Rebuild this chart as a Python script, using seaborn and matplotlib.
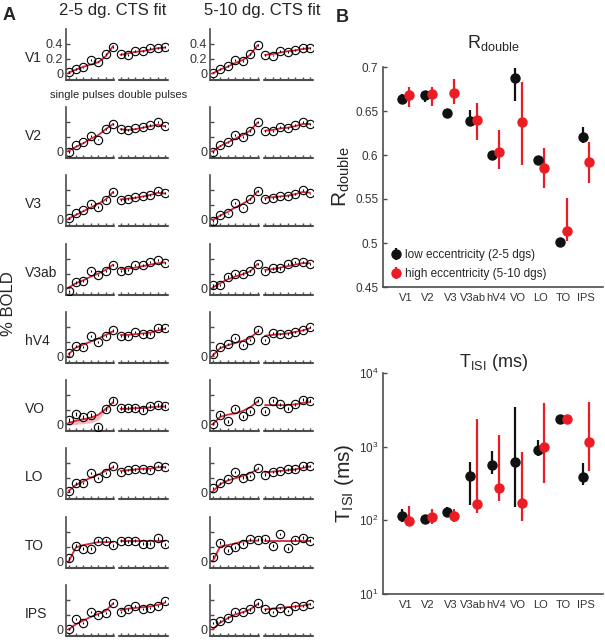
import numpy as np
import seaborn as sns
import matplotlib.pyplot as plt
from matplotlib.ticker import NullLocator

sns.set_style('ticks')
plt.rcParams['font.family'] = ['Liberation Sans', 'DejaVu Sans']
plt.rcParams['mathtext.fontset'] = 'custom'
plt.rcParams['mathtext.rm'] = 'Liberation Sans'
plt.rcParams['mathtext.it'] = 'Liberation Sans:italic'

rois = ['V1', 'V2', 'V3', 'V3ab', 'hV4', 'VO', 'LO', 'TO', 'IPS']

# panel A: % BOLD for 7 single pulses then 7 double pulses
bold_low = {
    'V1':   [0.02, 0.06, 0.08, 0.18, 0.16, 0.26, 0.36, 0.26, 0.25, 0.30, 0.30, 0.34, 0.34, 0.36],
    'V2':   [-0.01, 0.08, 0.12, 0.21, 0.16, 0.30, 0.37, 0.30, 0.29, 0.31, 0.33, 0.36, 0.40, 0.34],
    'V3':   [0.02, 0.08, 0.12, 0.21, 0.17, 0.26, 0.37, 0.26, 0.28, 0.30, 0.31, 0.33, 0.38, 0.36],
    'V3ab': [-0.04, 0.08, 0.10, 0.23, 0.18, 0.24, 0.32, 0.24, 0.25, 0.32, 0.32, 0.36, 0.38, 0.34],
    'hV4':  [0.04, 0.14, 0.13, 0.27, 0.19, 0.27, 0.35, 0.27, 0.27, 0.33, 0.30, 0.30, 0.38, 0.38],
    'VO':   [0.06, 0.14, 0.10, 0.13, -0.04, 0.21, 0.32, 0.22, 0.22, 0.22, 0.20, 0.25, 0.26, 0.25],
    'LO':   [0.02, 0.12, 0.13, 0.26, 0.19, 0.26, 0.35, 0.27, 0.30, 0.31, 0.32, 0.30, 0.36, 0.34],
    'TO':   [0.04, 0.21, 0.17, 0.17, 0.28, 0.28, 0.22, 0.28, 0.27, 0.28, 0.24, 0.24, 0.31, 0.23],
    'IPS':  [0.01, 0.14, 0.09, 0.23, 0.19, 0.22, 0.36, 0.23, 0.27, 0.32, 0.28, 0.29, 0.32, 0.38],
}
fit_low = {
    'V1':   [0.01, 0.05, 0.09, 0.12, 0.15, 0.23, 0.37, 0.25, 0.27, 0.29, 0.30, 0.32, 0.34, 0.35],
    'V2':   [0.01, 0.06, 0.11, 0.17, 0.22, 0.30, 0.37, 0.30, 0.29, 0.30, 0.32, 0.34, 0.36, 0.34],
    'V3':   [0.01, 0.06, 0.11, 0.16, 0.21, 0.27, 0.37, 0.27, 0.28, 0.29, 0.31, 0.33, 0.36, 0.35],
    'V3ab': [0.01, 0.07, 0.11, 0.16, 0.20, 0.25, 0.32, 0.26, 0.27, 0.28, 0.30, 0.32, 0.34, 0.35],
    'hV4':  [0.03, 0.12, 0.16, 0.20, 0.24, 0.29, 0.34, 0.29, 0.29, 0.30, 0.31, 0.32, 0.35, 0.37],
    'VO':   [0.02, 0.05, 0.07, 0.09, 0.13, 0.21, 0.30, 0.21, 0.21, 0.22, 0.22, 0.23, 0.24, 0.24],
    'LO':   [0.02, 0.10, 0.15, 0.20, 0.24, 0.29, 0.34, 0.29, 0.30, 0.31, 0.32, 0.32, 0.34, 0.34],
    'TO':   [0.00, 0.19, 0.22, 0.24, 0.26, 0.26, 0.26, 0.27, 0.27, 0.27, 0.27, 0.27, 0.27, 0.27],
    'IPS':  [0.00, 0.07, 0.12, 0.17, 0.21, 0.25, 0.35, 0.26, 0.28, 0.29, 0.30, 0.31, 0.33, 0.36],
}
bold_high = {
    'V1':   [0.01, 0.06, 0.10, 0.18, 0.17, 0.26, 0.38, 0.25, 0.24, 0.30, 0.29, 0.32, 0.34, 0.34],
    'V2':   [-0.01, 0.08, 0.12, 0.22, 0.19, 0.28, 0.40, 0.28, 0.28, 0.33, 0.32, 0.36, 0.40, 0.37],
    'V3':   [-0.02, 0.06, 0.08, 0.22, 0.16, 0.28, 0.38, 0.28, 0.29, 0.31, 0.32, 0.34, 0.40, 0.35],
    'V3ab': [0.04, 0.05, 0.16, 0.19, 0.20, 0.24, 0.33, 0.24, 0.27, 0.27, 0.33, 0.36, 0.36, 0.33],
    'hV4':  [0.03, 0.13, 0.17, 0.25, 0.15, 0.22, 0.35, 0.22, 0.32, 0.30, 0.30, 0.33, 0.36, 0.40],
    'VO':   [0.01, 0.13, 0.04, 0.21, 0.11, 0.18, 0.32, 0.18, 0.32, 0.27, 0.22, 0.27, 0.33, 0.32],
    'LO':   [0.06, 0.12, 0.18, 0.28, 0.20, 0.22, 0.33, 0.24, 0.28, 0.29, 0.31, 0.31, 0.36, 0.36],
    'TO':   [0.06, 0.25, 0.15, 0.19, 0.24, 0.30, 0.29, 0.30, 0.21, 0.37, 0.18, 0.29, 0.32, 0.28],
    'IPS':  [0.09, 0.11, 0.16, 0.24, 0.24, 0.27, 0.35, 0.27, 0.24, 0.29, 0.25, 0.31, 0.32, 0.34],
}
fit_high = {
    'V1':   [0.00, 0.05, 0.09, 0.14, 0.18, 0.25, 0.38, 0.25, 0.26, 0.28, 0.30, 0.31, 0.33, 0.34],
    'V2':   [0.00, 0.07, 0.12, 0.17, 0.22, 0.28, 0.39, 0.28, 0.29, 0.31, 0.32, 0.34, 0.37, 0.37],
    'V3':   [-0.01, 0.05, 0.10, 0.16, 0.21, 0.27, 0.38, 0.29, 0.30, 0.31, 0.32, 0.34, 0.37, 0.36],
    'V3ab': [0.01, 0.07, 0.12, 0.16, 0.19, 0.23, 0.33, 0.25, 0.26, 0.28, 0.30, 0.32, 0.34, 0.34],
    'hV4':  [0.01, 0.11, 0.15, 0.18, 0.21, 0.25, 0.33, 0.28, 0.29, 0.30, 0.31, 0.33, 0.35, 0.38],
    'VO':   [0.00, 0.10, 0.13, 0.15, 0.18, 0.23, 0.31, 0.26, 0.26, 0.26, 0.26, 0.27, 0.29, 0.30],
    'LO':   [0.01, 0.11, 0.16, 0.19, 0.22, 0.26, 0.31, 0.27, 0.28, 0.29, 0.30, 0.31, 0.33, 0.35],
    'TO':   [0.00, 0.20, 0.22, 0.24, 0.27, 0.28, 0.28, 0.27, 0.27, 0.27, 0.27, 0.27, 0.27, 0.27],
    'IPS':  [0.00, 0.09, 0.15, 0.20, 0.23, 0.27, 0.34, 0.27, 0.28, 0.29, 0.30, 0.31, 0.32, 0.34],
}
err_low = [0.012, 0.012, 0.012, 0.015, 0.015, 0.03, 0.015, 0.02, 0.015]
err_high = [0.012, 0.012, 0.012, 0.015, 0.015, 0.02, 0.015, 0.02, 0.015]
# shaded fit interval shown for VO (2-5 dg), single pulses
vo_band_lo = [-0.01, 0.00, 0.01, 0.02, 0.06, 0.18, 0.29]
vo_band_hi = [0.03, 0.06, 0.08, 0.10, 0.14, 0.22, 0.31]

# panel B: R_double with error bar limits
r_low = [0.664, 0.668, 0.648, 0.639, 0.600, 0.688, 0.594, 0.501, 0.620]
r_low_lo = [0.658, 0.660, 0.642, 0.636, 0.595, 0.661, 0.590, 0.498, 0.614]
r_low_hi = [0.669, 0.672, 0.652, 0.651, 0.605, 0.699, 0.598, 0.503, 0.632]
r_high = [0.668, 0.669, 0.670, 0.640, 0.603, 0.637, 0.585, 0.514, 0.592]
r_high_lo = [0.655, 0.656, 0.658, 0.617, 0.584, 0.589, 0.562, 0.502, 0.568]
r_high_hi = [0.677, 0.677, 0.686, 0.659, 0.628, 0.683, 0.608, 0.551, 0.615]

# panel B: T_ISI (ms)
t_low = [113, 105, 128, 396, 570, 612, 910, 2380, 387]
t_low_lo = [94, 100, 113, 163, 430, 152, 755, 2300, 305]
t_low_hi = [143, 110, 154, 612, 880, 3450, 1220, 2460, 600]
t_high = [97, 110, 113, 167, 275, 172, 1000, 2380, 1150]
t_high_lo = [85, 90, 94, 126, 181, 97, 321, 2050, 462]
t_high_hi = [155, 143, 143, 2380, 1455, 838, 3920, 2600, 4000]

fit_red = '#d9263a'
pt_red = '#ec1c24'
axc = '0.3'
W, H = 605, 640


def rect(x0, x1, y_top, y_bot):
    return [x0 / W, 1 - y_bot / H, (x1 - x0) / W, (y_bot - y_top) / H]


def style(ax):
    sns.despine(ax=ax)
    for s in ['left', 'bottom']:
        ax.spines[s].set_color(axc)
        ax.spines[s].set_linewidth(1.2)
    ax.tick_params(direction='in', color=axc, labelcolor='0.2', width=1)


fig = plt.figure(figsize=(6.05, 6.4), dpi=100)

# ---------- panel A ----------
row_bottoms = [80, 158, 226, 295, 363, 431, 499, 568, 636]
cols = [(66, 168), (210, 313)]
x = np.arange(14)
conds = [(bold_low, fit_low, err_low), (bold_high, fit_high, err_high)]
for j, (bold, fit, errs) in enumerate(conds):
    for i, roi in enumerate(rois):
        ax = fig.add_axes(rect(cols[j][0], cols[j][1], row_bottoms[i] - 51, row_bottoms[i]))
        vals = np.array(bold[roi])
        f = np.array(fit[roi])
        if j == 0 and roi == 'VO':
            ax.fill_between(x[:7], vo_band_lo, vo_band_hi, color='#f4a7b0', lw=0, alpha=0.8)
        sns.lineplot(x=x[:7], y=f[:7], ax=ax, color=fit_red, lw=1.3)
        sns.lineplot(x=x[7:], y=f[7:], ax=ax, color=fit_red, lw=1.3)
        ax.errorbar(x, vals, yerr=errs[i], fmt='o', ms=6, mfc='none', mec='k',
                    mew=0.8, ecolor='k', elinewidth=0.8, capsize=0)
        ax.set_xlim(-0.35, 13.4)
        ax.set_ylim(-0.09, 0.6)
        style(ax)
        ax.spines['bottom'].set_visible(False)
        tr = ax.get_xaxis_transform()
        ax.plot([-0.35, x[6] + 0.15], [0, 0], transform=tr, color=axc, lw=1.5, clip_on=False)
        ax.plot([x[7] - 0.2, 13.4], [0, 0], transform=tr, color=axc, lw=1.5, clip_on=False)
        ax.set_xticks(x)
        ax.set_xticklabels([])
        ax.tick_params(axis='x', length=2.5)
        ax.tick_params(axis='y', length=3, labelsize=9, pad=2)
        ax.set_yticks([0, 0.2, 0.4])
        if i == 0:
            ax.set_yticklabels(['0', '0.2', '0.4'])
        else:
            ax.set_yticklabels(['0', '', ''])
        ax.set_xlabel('')
        ax.set_ylabel('')
        if j == 0:
            fig.text(25 / W, 1 - (row_bottoms[i] - 22) / H, roi, fontsize=10,
                     ha='left', va='center')
        if j == 0 and i == 0:
            ax.text(x[6] + 0.2, -0.3, 'single pulses', transform=tr, ha='right',
                    va='center', fontsize=8)
            ax.text(x[7] - 0.3, -0.3, 'double pulses', transform=tr, ha='left',
                    va='center', fontsize=8)

fig.text(113 / W, 1 - 11 / H, '2-5 dg. CTS fit', fontsize=12, ha='center', va='center')
fig.text(262 / W, 1 - 11 / H, '5-10 dg. CTS fit', fontsize=12, ha='center', va='center')
fig.text(9 / W, 1 - 304 / H, '% BOLD', fontsize=12, rotation=90, ha='center', va='center')
fig.text(3 / W, 1 - 15 / H, 'A', fontsize=13, fontweight='bold', ha='left', va='center')
fig.text(336 / W, 1 - 17 / H, 'B', fontsize=13, fontweight='bold', ha='left', va='center')

# ---------- panel B ----------
xr = np.arange(len(rois))
black = '#111111'

ax1 = fig.add_axes(rect(383, 603, 67, 287))
r_low_a, r_high_a = np.array(r_low), np.array(r_high)
ax1.errorbar(xr - 0.15, r_low_a, yerr=[r_low_a - r_low_lo, np.array(r_low_hi) - r_low_a],
             fmt='o', color=black, ms=6.5, elinewidth=1.6, capsize=0,
             label='low eccentricity (2-5 dgs)')
ax1.errorbar(xr + 0.15, r_high_a, yerr=[r_high_a - r_high_lo, np.array(r_high_hi) - r_high_a],
             fmt='o', color=pt_red, ms=6.5, elinewidth=1.6, capsize=0,
             label='high eccentricity (5-10 dgs)')
ax1.set_xlim(-1.0, 8.75)
ax1.set_ylim(0.45, 0.7)
ax1.set_xticks(xr)
ax1.set_xticklabels(rois)
ax1.set_yticks([0.45, 0.5, 0.55, 0.6, 0.65, 0.7])
ax1.set_yticklabels(['0.45', '0.5', '0.55', '0.6', '0.65', '0.7'])
style(ax1)
ax1.tick_params(axis='x', length=0, labelsize=8, pad=4)
ax1.tick_params(axis='y', length=3, labelsize=8.5)
ax1.set_title(r'R$_{\rm double}$', fontsize=13, pad=14)
ax1.set_ylabel(r'R$_{\rm double}$', fontsize=15, labelpad=2)
ax1.legend(loc='lower left', frameon=False, fontsize=8.5, handletextpad=0.3,
           borderaxespad=0.2, handlelength=1.0, labelspacing=0.6)

ax2 = fig.add_axes(rect(383, 603, 373, 594))
t_low_a, t_high_a = np.array(t_low), np.array(t_high)
ax2.errorbar(xr - 0.15, t_low_a, yerr=[t_low_a - t_low_lo, np.array(t_low_hi) - t_low_a],
             fmt='o', color=black, ms=6.5, elinewidth=1.6, capsize=0)
ax2.errorbar(xr + 0.15, t_high_a, yerr=[t_high_a - t_high_lo, np.array(t_high_hi) - t_high_a],
             fmt='o', color=pt_red, ms=6.5, elinewidth=1.6, capsize=0)
ax2.set_yscale('log')
ax2.set_xlim(-1.0, 8.75)
ax2.set_ylim(10, 1e4)
ax2.set_yticks([10, 100, 1000, 10000])
ax2.yaxis.set_minor_locator(NullLocator())
ax2.set_xticks(xr)
ax2.set_xticklabels(rois)
style(ax2)
ax2.tick_params(axis='x', length=0, labelsize=8, pad=4)
ax2.tick_params(axis='y', length=3, labelsize=8.5)
ax2.set_title(r'T$_{\rm ISI}$ (ms)', fontsize=13, pad=0)
ax2.set_ylabel(r'T$_{\rm ISI}$ (ms)', fontsize=15, labelpad=2)

fig.savefig('out.png', dpi=100)
